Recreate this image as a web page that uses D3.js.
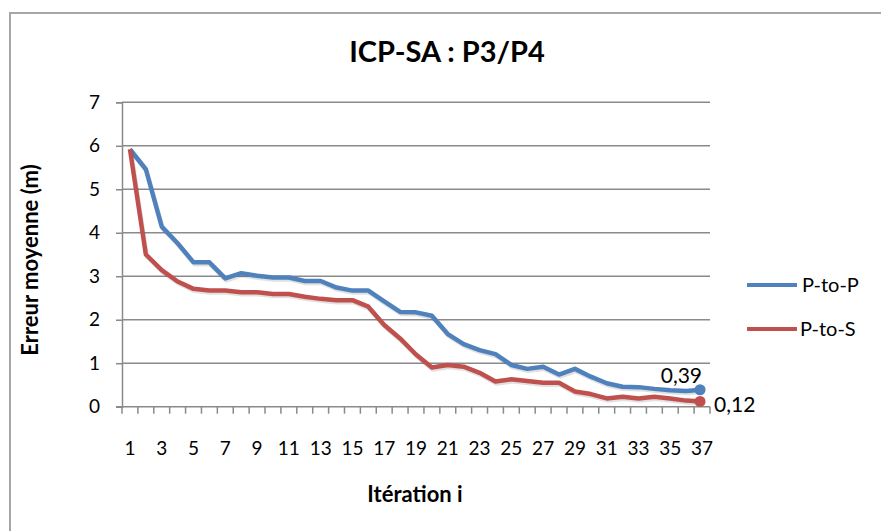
<!DOCTYPE html>
<html>
<head>
<meta charset="utf-8">
<script src="https://cdn.jsdelivr.net/npm/d3@7"></script>
<style>
  html, body { margin: 0; padding: 0; background: #fff; }
  svg { display: block; }
  text { font-family: Lato, "Open Sans", sans-serif; fill: #000; }
</style>
</head>
<body>
<svg id="chart" width="881" height="531"></svg>
<script>
// Iterations 1..37
const iterations = d3.range(1, 38);
// Mean error (m) per iteration
const pToP = [5.92, 5.46, 4.14, 3.76, 3.32, 3.32, 2.95, 3.07, 3.01, 2.97,
              2.97, 2.89, 2.89, 2.74, 2.67, 2.67, 2.42, 2.18, 2.17, 2.09,
              1.67, 1.44, 1.30, 1.21, 0.96, 0.87, 0.92, 0.74, 0.87, 0.69,
              0.54, 0.46, 0.45, 0.41, 0.38, 0.36, 0.39];
const pToS = [5.92, 3.50, 3.14, 2.88, 2.71, 2.67, 2.67, 2.63, 2.63, 2.59,
              2.59, 2.53, 2.48, 2.45, 2.45, 2.30, 1.88, 1.57, 1.20, 0.90,
              0.96, 0.92, 0.78, 0.58, 0.63, 0.59, 0.55, 0.55, 0.35, 0.29,
              0.19, 0.23, 0.19, 0.23, 0.19, 0.14, 0.12];
const seriesNames = ["P-to-P", "P-to-S"];
const seriesColors = ["#4F81BD", "#C0504D"];
const yTicks = [0, 1, 2, 3, 4, 5, 6, 7];

const svg = d3.select("#chart");

// outer chart frame
svg.append("rect")
  .attr("x", 10).attr("y", 13).attr("width", 900).attr("height", 560)
  .attr("fill", "none").attr("stroke", "#a6a6a6").attr("stroke-width", 2);

const plot = { left: 122, right: 710, top: 102.3, bottom: 406.7 };

const x = d3.scaleBand().domain(iterations).range([plot.left, plot.right]).padding(0);
const xc = d => x(d) + x.bandwidth() / 2;
const y = d3.scaleLinear().domain([0, 7]).range([plot.bottom, plot.top]);

// horizontal gridlines
svg.append("g")
  .selectAll("line").data(yTicks.filter(t => t > 0)).join("line")
  .attr("x1", plot.left).attr("x2", plot.right)
  .attr("y1", d => y(d)).attr("y2", d => y(d))
  .attr("stroke", "#8a8a8a").attr("stroke-width", 1.5);

// y axis
const yAxis = svg.append("g")
  .attr("transform", `translate(${plot.left},0)`)
  .call(d3.axisLeft(y).tickValues(yTicks).tickSize(6).tickPadding(16).tickFormat(d3.format("d")));
yAxis.select(".domain").attr("stroke", "#8a8a8a").attr("stroke-width", 1.5);
yAxis.selectAll(".tick line").attr("stroke", "#8a8a8a").attr("stroke-width", 1.5);
yAxis.selectAll(".tick text").attr("font-size", 19).attr("fill", "#000")
  .attr("font-family", "Lato, 'Open Sans', sans-serif");

// x axis: baseline, boundary ticks, odd labels
const xAxis = svg.append("g").attr("transform", `translate(0,${plot.bottom})`);
xAxis.append("line")
  .attr("x1", plot.left - 6).attr("x2", plot.right)
  .attr("stroke", "#8a8a8a").attr("stroke-width", 1.5);
const bounds = iterations.map(d => x(d)).concat([x(iterations[iterations.length - 1]) + x.bandwidth()]);
xAxis.selectAll("line.tk").data(bounds).join("line").attr("class", "tk")
  .attr("x1", d => d).attr("x2", d => d).attr("y1", 0).attr("y2", 7)
  .attr("stroke", "#8a8a8a").attr("stroke-width", 1.5);
xAxis.selectAll("text").data(iterations.filter(d => d % 2 === 1)).join("text")
  .attr("x", d => xc(d)).attr("y", 48)
  .attr("text-anchor", "middle").attr("font-size", 19)
  .text(d => d);

// series lines
const line = d3.line().x((d, i) => xc(iterations[i])).y(d => y(d));
[pToP, pToS].forEach((vals, k) => {
  svg.append("path").datum(vals)
    .attr("d", line)
    .attr("fill", "none")
    .attr("stroke", "rgba(0,0,0,0.12)").attr("stroke-width", 4.5)
    .attr("transform", "translate(1,2)")
    .attr("stroke-linejoin", "round");
  svg.append("path").datum(vals)
    .attr("d", line)
    .attr("fill", "none")
    .attr("stroke", seriesColors[k]).attr("stroke-width", 4.5)
    .attr("stroke-linejoin", "round");
});

// end markers and value labels
const last = iterations[iterations.length - 1];
const fmt = v => d3.format(".2f")(v).replace(".", ",");
[pToP, pToS].forEach((vals, k) => {
  const v = vals[vals.length - 1];
  svg.append("circle")
    .attr("cx", xc(last) - 2).attr("cy", y(v)).attr("r", 5.5)
    .attr("fill", seriesColors[k]);
});
svg.append("text")
  .attr("x", xc(last)).attr("y", y(pToP[pToP.length - 1]) - 7)
  .attr("text-anchor", "end").attr("font-size", 21)
  .text(fmt(pToP[pToP.length - 1]));
svg.append("text")
  .attr("x", xc(last) + 12).attr("y", y(pToS[pToS.length - 1]) + 11)
  .attr("text-anchor", "start").attr("font-size", 21)
  .text(fmt(pToS[pToS.length - 1]));

// legend
const legend = svg.append("g");
seriesNames.forEach((name, k) => {
  const ly = 285 + k * 44;
  legend.append("line")
    .attr("x1", 747).attr("x2", 797).attr("y1", ly).attr("y2", ly)
    .attr("stroke", seriesColors[k]).attr("stroke-width", 4);
  legend.append("text")
    .attr("x", 802 - k * 2).attr("y", ly + 7).attr("font-size", 20)
    .text(name);
});

// title
svg.append("text")
  .attr("x", 447).attr("y", 62).attr("text-anchor", "middle")
  .attr("font-size", 29).attr("font-weight", "bold")
  .text("ICP-SA : P3/P4");

// axis titles
svg.append("text")
  .attr("transform", "translate(38,260) rotate(-90)")
  .attr("text-anchor", "middle").attr("font-size", 22).attr("font-weight", "bold")
  .text("Erreur moyenne (m)");
svg.append("text")
  .attr("x", 415).attr("y", 502).attr("text-anchor", "middle")
  .attr("font-size", 22).attr("font-weight", "bold")
  .text("Itération i");
</script>
</body>
</html>
